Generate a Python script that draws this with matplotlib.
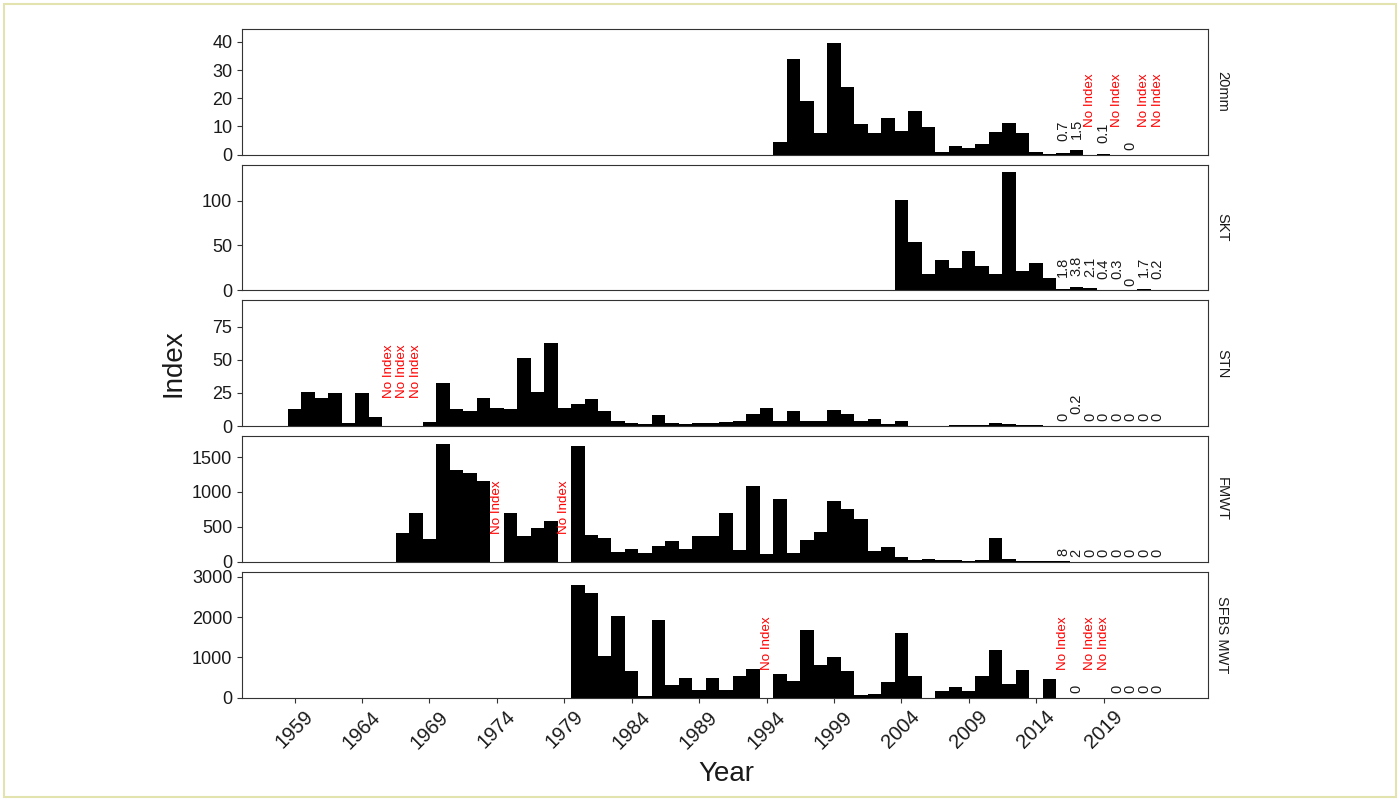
import matplotlib.pyplot as plt
from matplotlib.patches import Rectangle
from matplotlib.transforms import ScaledTranslation
import numpy as np

plt.rcParams['font.family'] = ['Liberation Sans', 'DejaVu Sans']

# recent years are written as text labels above the bars
label_years = list(range(2016, 2024))

# 20mm survey
years_20mm = list(range(1995, 2016))
index_20mm = [4.4, 34, 19.2, 7.8, 39.5, 24, 11, 7.8, 13, 8.3, 15.5,
              9.8, 1.1, 3.0, 2.4, 3.9, 8.0, 11.2, 7.8, 1.1, 0.3]
labels_20mm = ['0.7', '1.5', 'No Index', '0.1', 'No Index', '0', 'No Index', 'No Index']

# Spring Kodiak trawl
years_skt = list(range(2004, 2016))
index_skt = [101, 53.6, 18.7, 33.7, 25.1, 43.8, 27.7, 18.7, 131.8, 21.3, 30.7, 14.2]
labels_skt = ['1.8', '3.8', '2.1', '0.4', '0.3', '0', '1.7', '0.2']

# Summer townet (None = no index that year)
years_stn = list(range(1959, 2016))
index_stn = [12.8, 25.7, 21.5, 25.2, 2.5, 24.7, 6.5, None, None, None,   # 1959-1968
             3.0, 32.7, 12.7, 11.5, 21.5, 13.5, 12.7, 51, 26, 62.7,       # 1969-1978
             14, 16.5, 20.2, 11, 3.5, 2.0, 1.5, 8.5, 2.2, 1.7,            # 1979-1988
             2.6, 2.4, 2.8, 3.5, 9.0, 13.5, 3.5, 11.5, 4.0, 3.5,          # 1989-1998
             12.3, 9.0, 4.0, 5.2, 1.6, 3.5, 0.3, 0.4, 0.4, 0.9,           # 1999-2008
             0.5, 0.6, 2.7, 1.2, 0.8, 0.5, 0.2]                           # 2009-2015
labels_stn = ['0', '0.2', '0', '0', '0', '0', '0', '0']

# Fall midwater trawl
years_fmwt = list(range(1967, 2016))
index_fmwt = [414, 705, 324, 1681, 1310, 1276, 1157, None, 705, 367,      # 1967-1976
              490, 581, None, 1657, 381, 338, 143, 190, 119, 224,         # 1977-1986
              295, 181, 371, 370, 700, 167, 1086, 110, 905, 133,          # 1987-1996
              310, 429, 871, 762, 610, 157, 214, 74, 26, 41,              # 1997-2006
              28, 23, 17, 29, 343, 42, 18, 9, 7]                          # 2007-2015
labels_fmwt = ['8', '2', '0', '0', '0', '0', '0', '0']

# San Francisco Bay Study midwater trawl
years_sfbs = list(range(1980, 2016))
index_sfbs = [2808, 2600, 1025, 2017, 653, 42, 1935, 305, 496, 191,      # 1980-1989
              479, 182, 546, 703, None, 579, 405, 1679, 802, 1017,        # 1990-1999
              653, 50, 83, 389, 1600, 525, 0, 152, 270, 170,              # 2000-2009
              525, 1174, 347, 682, 0, 460]                                # 2010-2015
labels_sfbs = ['No Index', '0', 'No Index', 'No Index', '0', '0', '0', '0']

panel_names = ['20mm', 'SKT', 'STN', 'FMWT', 'SFBS MWT']
panel_years = [years_20mm, years_skt, years_stn, years_fmwt, years_sfbs]
panel_index = [index_20mm, index_skt, index_stn, index_fmwt, index_sfbs]
panel_labels = [labels_20mm, labels_skt, labels_stn, labels_fmwt, labels_sfbs]
panel_ylim = [44.6, 140, 94.7, 1800, 3124]
panel_yticks = [[0, 10, 20, 30, 40], [0, 50, 100], [0, 25, 50, 75],
                [0, 500, 1000, 1500], [0, 1000, 2000, 3000]]
year_ticks = list(range(1959, 2020, 5))


def label_offset(txt):
    # rough text-length based lift, like hjust < 0 in ggplot
    return 1.5 + 3.3 * len(txt)


fig = plt.figure(figsize=(14, 8.01), dpi=100)
gs = fig.add_gridspec(5, 1, left=0.1729, right=0.8629, top=0.9638, bottom=0.1292, hspace=0.08)

for i in range(5):
    ax = fig.add_subplot(gs[i])
    yrs = panel_years[i]
    vals = np.array([np.nan if v is None else v for v in panel_index[i]], dtype=float)

    lab_vals = []
    for t in panel_labels[i]:
        lab_vals.append(np.nan if t == 'No Index' else float(t))
    all_years = yrs + label_years
    all_vals = np.concatenate([vals, lab_vals])
    ax.bar(all_years, np.nan_to_num(all_vals), width=1.0, color='black', linewidth=0)

    # missing years inside the series
    for y, v in zip(yrs, panel_index[i]):
        if v is None:
            ax.annotate('No Index', (y, 0), xytext=(0, label_offset('No Index')),
                        textcoords='offset pixels', rotation=90, ha='center', va='bottom',
                        color='red', fontsize=9.6)
    # recent years written as text
    for y, t in zip(label_years, panel_labels[i]):
        if t == 'No Index':
            ax.annotate(t, (y, 0), xytext=(0, label_offset(t)), textcoords='offset pixels',
                        rotation=90, ha='center', va='bottom', color='red', fontsize=9.6)
        else:
            ax.annotate(t, (y, float(t)), xytext=(0, label_offset(t)), textcoords='offset pixels',
                        rotation=90, ha='center', va='bottom', color='#1a1a1a', fontsize=10.5)

    ax.set_xlim(1955.1, 2026.75)
    ax.set_ylim(0, panel_ylim[i])
    ax.set_yticks(panel_yticks[i])
    ax.set_xticks(year_ticks)
    for s in ax.spines.values():
        s.set_color('#333333')
        s.set_linewidth(0.8)
    ax.tick_params(axis='both', direction='out', length=3.5, width=0.8, color='#333333',
                   labelcolor='#1a1a1a', labelsize=13)
    if i < 4:
        ax.tick_params(axis='x', bottom=False, labelbottom=False)
    else:
        ax.set_xticklabels([str(y) for y in year_ticks], rotation=45, ha='right',
                           rotation_mode='anchor', fontsize=14.5)
        shift = ScaledTranslation(9 / 100, 0, fig.dpi_scale_trans)
        for lab in ax.get_xticklabels():
            lab.set_transform(lab.get_transform() + shift)
    ax.text(1.0145, 0.5, panel_names[i], transform=ax.transAxes, rotation=-90,
            ha='center', va='center', fontsize=10.5, color='#1a1a1a')

fig.text(0.519, 0.034, 'Year', ha='center', va='center', fontsize=20, color='#1a1a1a')
fig.text(0.1236, 0.547, 'Index', ha='center', va='center', rotation=90, fontsize=20, color='#1a1a1a')

fig.patches.append(Rectangle((4 / 1400, 4 / 801), 1 - 8 / 1400, 1 - 8 / 801,
                             transform=fig.transFigure, fill=False,
                             edgecolor='#e3e3b0', linewidth=1.5))

fig.savefig('out.png', dpi=100)
